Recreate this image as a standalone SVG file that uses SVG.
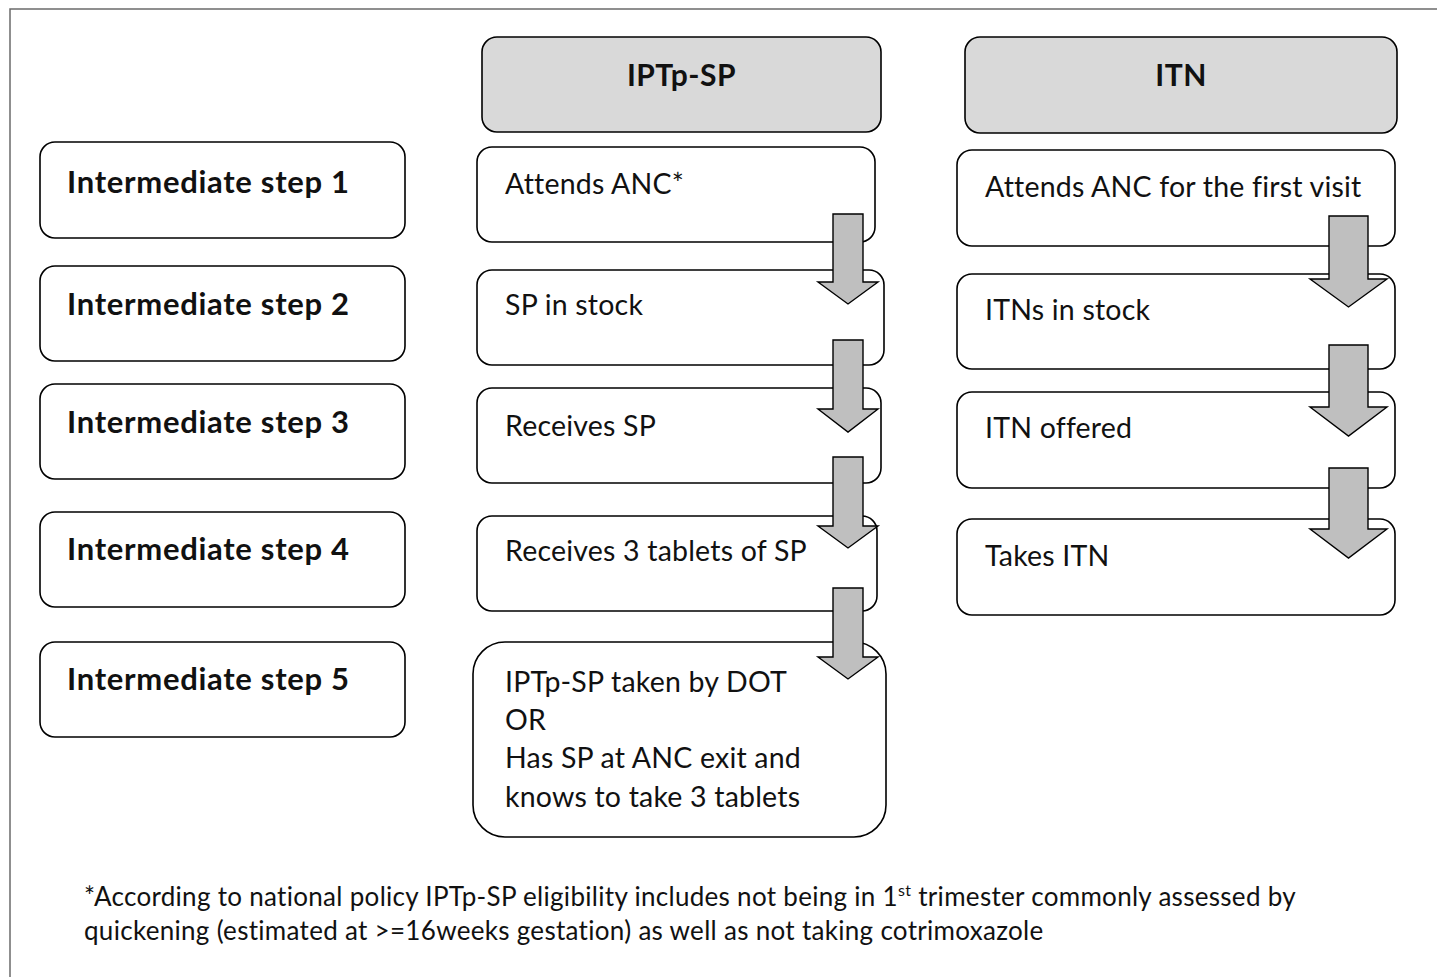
<svg xmlns="http://www.w3.org/2000/svg" width="1437" height="977" viewBox="0 0 1437 977">
<style>
.frame{fill:none;stroke:#6b6b6b;stroke-width:1.5}
.box{fill:#ffffff;stroke:#000;stroke-width:1.6}
.hdr{fill:#d9d9d9;stroke:#000;stroke-width:1.6}
.arr{fill:#bfbfbf;stroke:#000;stroke-width:1.4;stroke-linejoin:miter}
.t{font-family:Lato,"Open Sans","Liberation Sans",sans-serif;font-size:28.5px;letter-spacing:0.2px;fill:#111}
.b{font-family:Lato,"Open Sans","Liberation Sans",sans-serif;font-size:31px;letter-spacing:0.7px;font-weight:bold;fill:#111}
.h{font-family:Lato,"Open Sans","Liberation Sans",sans-serif;font-size:30px;letter-spacing:0.5px;font-weight:bold;fill:#111}
.fn{font-family:Lato,"Open Sans","Liberation Sans",sans-serif;font-size:26px;letter-spacing:0.3px;fill:#111}
</style>
<rect width="1437" height="977" fill="#fff"/>
<path class="frame" d="M10,977 V9 H1437"/>

<g id="hdr-iptp"><rect class="hdr" x="482" y="37" width="399" height="95" rx="15"/><text class="h" x="681.5" y="86" text-anchor="middle">IPTp-SP</text></g>
<g id="hdr-itn"><rect class="hdr" x="965" y="37" width="432" height="96" rx="15"/><text class="h" x="1181" y="86" text-anchor="middle">ITN</text></g>

<g id="step1"><rect class="box" x="40" y="142" width="365" height="96" rx="15"/><text class="b" x="67" y="193">Intermediate step 1</text></g>
<g id="step2"><rect class="box" x="40" y="266" width="365" height="95" rx="15"/><text class="b" x="67" y="315">Intermediate step 2</text></g>
<g id="step3"><rect class="box" x="40" y="384" width="365" height="95" rx="15"/><text class="b" x="67" y="433">Intermediate step 3</text></g>
<g id="step4"><rect class="box" x="40" y="512" width="365" height="95" rx="15"/><text class="b" x="67" y="560">Intermediate step 4</text></g>
<g id="step5"><rect class="box" x="40" y="642" width="365" height="95" rx="15"/><text class="b" x="67" y="690">Intermediate step 5</text></g>

<g id="iptp1"><rect class="box" x="477" y="147" width="398" height="95" rx="15"/><text class="t" x="505" y="194">Attends ANC*</text></g>
<g id="iptp2"><rect class="box" x="477" y="270" width="407" height="95" rx="15"/><text class="t" x="505" y="315">SP in stock</text></g>
<g id="iptp3"><rect class="box" x="477" y="388" width="404" height="95" rx="15"/><text class="t" x="505" y="436">Receives SP</text></g>
<g id="iptp4"><rect class="box" x="477" y="516" width="400" height="95" rx="15"/><text class="t" x="505" y="561">Receives 3 tablets of SP</text></g>
<g id="iptp5"><rect class="box" x="473" y="642" width="413" height="195" rx="32"/><text class="t" x="505" y="692">IPTp-SP taken by DOT</text><text class="t" x="505" y="730">OR</text><text class="t" x="505" y="768">Has SP at ANC exit and</text><text class="t" x="505" y="807">knows to take 3 tablets</text></g>

<g id="itn1"><rect class="box" x="957" y="150" width="438" height="96" rx="15"/><text class="t" x="985" y="197">Attends ANC for the first visit</text></g>
<g id="itn2"><rect class="box" x="957" y="274" width="438" height="95" rx="15"/><text class="t" x="985" y="320">ITNs in stock</text></g>
<g id="itn3"><rect class="box" x="957" y="392" width="438" height="96" rx="15"/><text class="t" x="985" y="438">ITN offered</text></g>
<g id="itn4"><rect class="box" x="957" y="519" width="438" height="96" rx="15"/><text class="t" x="985" y="566">Takes ITN</text></g>

<g id="connectors">
<polygon class="arr" points="833,214 863,214 863,282 878,282 848,304 818,282 833,282"/>
<polygon class="arr" points="833,340 863,340 863,409 878,409 848,432 818,409 833,409"/>
<polygon class="arr" points="833,457 863,457 863,526 878,526 848,548 818,526 833,526"/>
<polygon class="arr" points="833,588 863,588 863,657 878,657 848,679 818,657 833,657"/>
<polygon class="arr" points="1329,216 1368,216 1368,279 1387,279 1348.5,307 1310,279 1329,279"/>
<polygon class="arr" points="1329,345 1368,345 1368,407 1387,407 1348.5,436 1310,407 1329,407"/>
<polygon class="arr" points="1329,468 1368,468 1368,529 1387,529 1348.5,558 1310,529 1329,529"/>
</g>

<g id="footnote">
<text class="fn" x="84" y="906">*According to national policy IPTp-SP eligibility includes not being in 1<tspan font-size="16" dy="-10">st</tspan><tspan dy="10"> trimester commonly assessed by</tspan></text>
<text class="fn" x="84" y="940">quickening (estimated at &gt;=16weeks gestation) as well as not taking cotrimoxazole</text>
</g>
</svg>
